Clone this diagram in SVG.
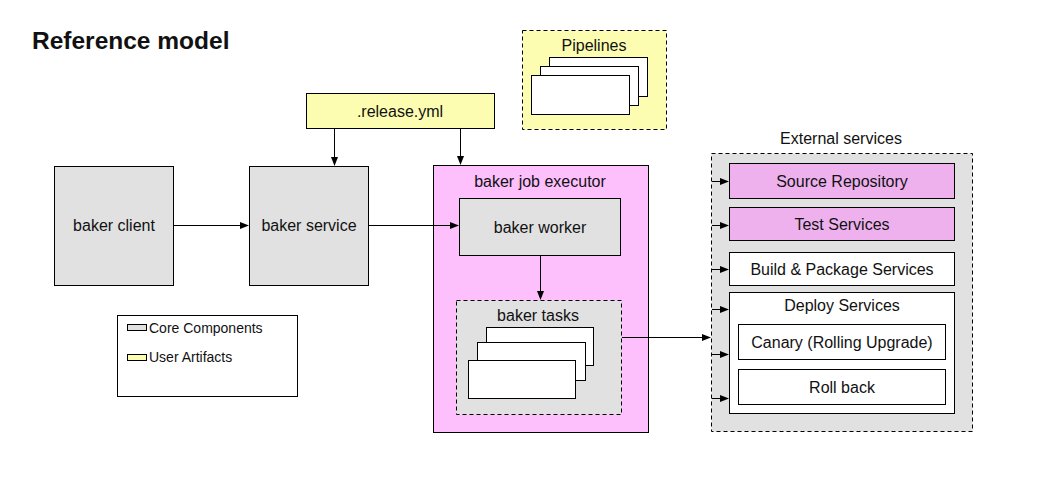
<svg xmlns="http://www.w3.org/2000/svg" width="1044" height="504" viewBox="0 0 1044 504">
<defs>
<marker id="ah" markerWidth="9" markerHeight="7" refX="8" refY="3.5" orient="auto" markerUnits="userSpaceOnUse">
<path d="M0,0 L9,3.5 L0,7 Z" fill="#000"/>
</marker>
<style>
text{font-family:"Liberation Sans",Arial,sans-serif;fill:#111;text-anchor:middle}
.lbl{font-size:16px}
.sm{font-size:14px;text-anchor:start}
.core{fill:#e1e1e1;stroke:#000;stroke-width:1}
.user{fill:#fdfdb2;stroke:#000;stroke-width:1}
.exec{fill:#fdc0fd;stroke:#000;stroke-width:1}
.ext{fill:#eeb1ee;stroke:#000;stroke-width:1}
.white{fill:#fff;stroke:#000;stroke-width:1}
.dash{stroke-dasharray:4,3}
.conn{stroke:#000;stroke-width:1;fill:none;marker-end:url(#ah)}
</style>
</defs>
<rect width="1044" height="504" fill="#fff"/>
<text x="32" y="49" style="font-size:24.5px;font-weight:bold;text-anchor:start">Reference model</text>

<g id="pipelines">
<rect class="user dash" x="522.5" y="30.5" width="144" height="99"/>
<text class="lbl" x="594" y="51">Pipelines</text>
<rect class="white" x="549.5" y="57.5" width="98" height="39"/>
<rect class="white" x="540.5" y="66.5" width="98" height="39"/>
<rect class="white" x="531.5" y="75.5" width="98" height="39"/>
</g>

<g id="release">
<rect class="user" x="306.5" y="93.5" width="188" height="35"/>
<text class="lbl" x="400" y="117">.release.yml</text>
</g>

<g id="client">
<rect class="core" x="54.5" y="166.5" width="119" height="119"/>
<text class="lbl" x="114" y="231">baker client</text>
</g>

<g id="service">
<rect class="core" x="249.5" y="166.5" width="119" height="119"/>
<text class="lbl" x="309" y="231">baker service</text>
</g>

<g id="executor">
<rect class="exec" x="433.5" y="165.5" width="215" height="267"/>
<text class="lbl" x="540" y="187">baker job executor</text>
</g>

<g id="worker">
<rect class="core" x="459.5" y="198.5" width="161" height="57"/>
<text class="lbl" x="540" y="233">baker worker</text>
</g>

<g id="tasks">
<rect class="core dash" x="456.5" y="300.5" width="165" height="114"/>
<text class="lbl" x="538" y="321">baker tasks</text>
<rect class="white" x="486.5" y="327.5" width="107" height="38"/>
<rect class="white" x="477.5" y="342.5" width="108" height="38"/>
<rect class="white" x="468.5" y="360.5" width="107" height="38"/>
</g>

<g id="external">
<text class="lbl" x="841" y="144">External services</text>
<rect class="core dash" x="711.5" y="153.5" width="261" height="278"/>
</g>
<g id="source-repo">
<rect class="ext" x="729.5" y="163.5" width="225" height="35"/>
<text class="lbl" x="842" y="187">Source Repository</text>
</g>
<g id="test-services">
<rect class="ext" x="729.5" y="207.5" width="225" height="33"/>
<text class="lbl" x="842" y="230">Test Services</text>
</g>
<g id="build-package">
<rect class="white" x="729.5" y="252.5" width="225" height="33"/>
<text class="lbl" x="842" y="275">Build &amp; Package Services</text>
</g>
<g id="deploy">
<rect class="white" x="729.5" y="292.5" width="225" height="121"/>
<text class="lbl" x="842" y="311">Deploy Services</text>
</g>
<g id="canary">
<rect class="white" x="738.5" y="324.5" width="207" height="35"/>
<text class="lbl" x="842" y="348">Canary (Rolling Upgrade)</text>
</g>
<g id="rollback">
<rect class="white" x="738.5" y="369.5" width="207" height="35"/>
<text class="lbl" x="842" y="393">Roll back</text>
</g>

<g id="legend">
<rect class="white" x="117.5" y="315.5" width="180" height="81"/>
<rect class="core" x="127.5" y="324.5" width="19" height="6"/>
<text class="sm" x="149" y="333">Core Components</text>
<rect class="user" x="127.5" y="354.5" width="19" height="6"/>
<text class="sm" x="149" y="362">User Artifacts</text>
</g>

<g id="connectors">
<line class="conn" x1="174" y1="225.5" x2="248" y2="225.5"/>
<line class="conn" x1="369" y1="225.5" x2="458" y2="225.5"/>
<line class="conn" x1="334.5" y1="129" x2="334.5" y2="165"/>
<line class="conn" x1="460.5" y1="129" x2="460.5" y2="164"/>
<line class="conn" x1="540.5" y1="256" x2="540.5" y2="299"/>
<line class="conn" x1="622" y1="337.5" x2="710" y2="337.5"/>
<line class="conn" x1="712" y1="181.5" x2="728" y2="181.5"/>
<line class="conn" x1="712" y1="225.5" x2="728" y2="225.5"/>
<line class="conn" x1="712" y1="269.5" x2="728" y2="269.5"/>
<line class="conn" x1="712" y1="309.5" x2="728" y2="309.5"/>
<line class="conn" x1="712" y1="354.5" x2="728" y2="354.5"/>
<line class="conn" x1="712" y1="398.5" x2="728" y2="398.5"/>
</g>
</svg>
